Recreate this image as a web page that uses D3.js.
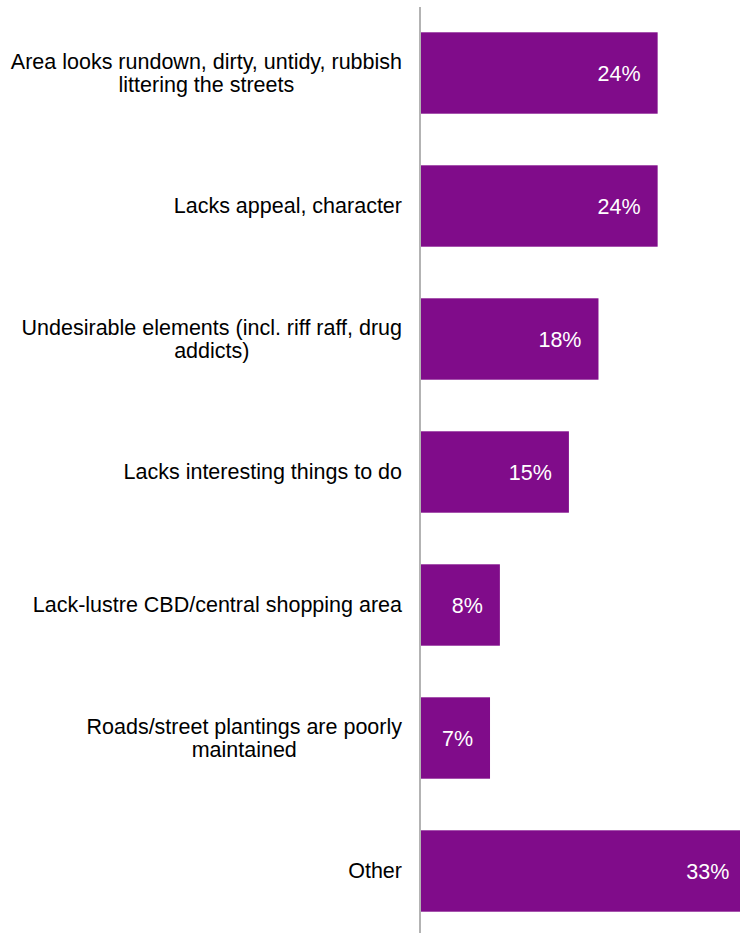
<!DOCTYPE html>
<html>
<head>
<meta charset="utf-8">
<script src="https://cdn.jsdelivr.net/npm/d3@7"></script>
<style>
  html, body { margin: 0; padding: 0; background: #ffffff; }
  svg { display: block; }
</style>
</head>
<body>
<svg id="chart" width="740" height="933"></svg>
<script>
// ---- data ----
const categories = [
  "Area looks rundown, dirty, untidy, rubbish\nlittering the streets",
  "Lacks appeal, character",
  "Undesirable elements (incl. riff raff, drug\naddicts)",
  "Lacks interesting things to do",
  "Lack-lustre CBD/central shopping area",
  "Roads/street plantings are poorly\nmaintained",
  "Other"
];
const values = [24, 24, 18, 15, 8, 7, 33];
const valueLabels = ["24%", "24%", "18%", "15%", "8%", "7%", "33%"];

// ---- layout ----
const W = 740, H = 933;
const axisX = 420;
const svg = d3.select("#chart");

const y = d3.scaleBand()
  .domain(d3.range(categories.length))
  .range([6.5, 937.5])
  .paddingInner(0.388)
  .paddingOuter(0.194);

const x = d3.scaleLinear().domain([0, 100]).range([421, 421 + 986]);

const barColor = "#800c8a";
const font = "'Liberation Sans', Arial, Helvetica, sans-serif";
const fs = "21.5px";

// bars
svg.append("g").selectAll("rect")
  .data(values)
  .join("rect")
  .attr("x", x(0))
  .attr("y", (d, i) => y(i))
  .attr("width", d => x(d) - x(0))
  .attr("height", y.bandwidth())
  .attr("fill", barColor);

// value labels
svg.append("g").selectAll("text")
  .data(values)
  .join("text")
  .attr("x", d => x(d) - 17)
  .attr("y", (d, i) => y(i) + y.bandwidth() / 2 + 7.5)
  .attr("text-anchor", "end")
  .attr("fill", "#ffffff")
  .attr("font-family", font)
  .attr("font-size", fs)
  .text((d, i) => valueLabels[i]);

// category labels
const lineH = 23;
const lab = svg.append("g").selectAll("text")
  .data(categories)
  .join("text")
  .attr("text-anchor", "middle")
  .attr("fill", "#000000")
  .attr("font-family", font)
  .attr("font-size", fs);

lab.each(function(d, i) {
  const lines = d.split("\n");
  const c = y(i) + y.bandwidth() / 2;
  const t = d3.select(this);
  lines.forEach((ln, k) => {
    t.append("tspan")
      .attr("y", c + 7 + (k - (lines.length - 1) / 2) * lineH)
      .text(ln);
  });
});
// right-align block, center lines within block
lab.each(function() {
  const t = d3.select(this);
  const spans = t.selectAll("tspan").nodes();
  const widths = spans.map(s => s.getComputedTextLength());
  const maxW = d3.max(widths);
  const cx = 402 - maxW / 2;
  spans.forEach(s => d3.select(s).attr("x", cx));
});

// axis line
svg.append("line")
  .attr("x1", axisX).attr("x2", axisX)
  .attr("y1", 7).attr("y2", H)
  .attr("stroke", "#a0a0a0")
  .attr("stroke-width", 1.6);
</script>
</body>
</html>
